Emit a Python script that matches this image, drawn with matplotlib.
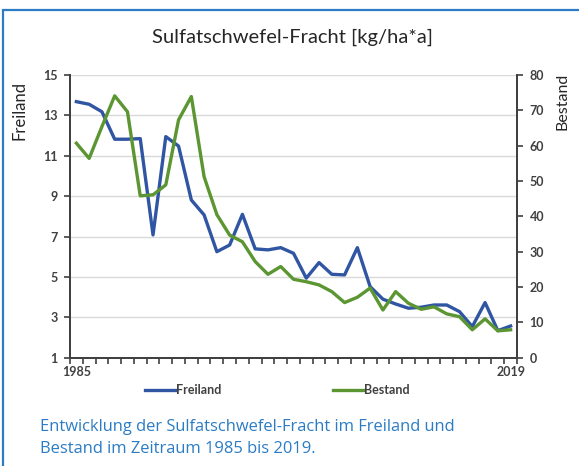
import numpy as np
import matplotlib
matplotlib.use("Agg")
from matplotlib import pyplot as plt
from matplotlib.lines import Line2D
from matplotlib.patches import Rectangle

years = list(range(1985, 2020))
freiland = [13.68, 13.55, 13.18, 11.82, 11.82, 11.85, 7.08, 11.95, 11.48, 8.81,
            8.07, 6.25, 6.58, 8.10, 6.39, 6.34, 6.45, 6.17, 4.94, 5.71,
            5.13, 5.10, 6.45, 4.52, 3.90, 3.66, 3.45, 3.50, 3.61, 3.61,
            3.28, 2.54, 3.73, 2.34, 2.57]
bestand = [60.7, 56.4, 65.4, 74.1, 69.6, 45.8, 46.1, 48.9, 67.3, 73.9,
           51.2, 40.5, 34.7, 32.8, 27.2, 23.6, 25.8, 22.2, 21.5, 20.6,
           18.7, 15.6, 17.1, 19.7, 13.5, 18.7, 15.4, 13.7, 14.4, 12.4,
           11.6, 7.9, 11.0, 7.6, 7.9]
left_ticks = [1, 3, 5, 7, 9, 11, 13, 15]
right_ticks = [0, 10, 20, 30, 40, 50, 60, 70, 80]

blue = "#2f55a3"
green = "#5b9632"
axis_col = "#404040"
tick_col = "#404040"
font = ["Lato", "DejaVu Sans"]

fig = plt.figure(figsize=(5.79, 4.66), dpi=100)
fig.patches.append(Rectangle((3 / 579, -0.1), 1.2, 1 - 10 / 466 + 0.1, transform=fig.transFigure,
                             fill=False, edgecolor="#2b7cc4", linewidth=1.6))

ax = fig.add_axes([70 / 579, 1 - 357.7 / 466, 447 / 579, (357.7 - 75) / 466])
ax2 = ax.twinx()
x = np.arange(len(years))

ax.plot(x, freiland, color=blue, linewidth=2.4, zorder=3)
ax2.plot(x, bestand, color=green, linewidth=2.4, zorder=3)

ax.set_xlim(-0.5, len(years) - 0.5)
ax.set_ylim(1, 15)
ax2.set_ylim(0, 80)
ax.set_yticks(left_ticks)
ax2.set_yticks(right_ticks)
ax.yaxis.grid(True, color="#d9d9d9", linewidth=1.0)
ax.set_axisbelow(True)

ax.set_xticks(np.arange(-0.5, len(years) + 0.5, 1))
ax.set_xticklabels([])
xlab_tr = ax.get_xaxis_transform()
for i in (0, len(years) - 1):
    ax.annotate(str(years[i]), (i, 0), xycoords=xlab_tr, xytext=(0, -6),
                textcoords="offset points", ha="center", va="top", fontsize=9,
                color=tick_col, fontweight="bold", fontfamily=font)

for a in (ax, ax2):
    a.spines["top"].set_visible(False)
    for s in ("left", "right", "bottom"):
        a.spines[s].set_color(axis_col)
        a.spines[s].set_linewidth(1.3)
    a.tick_params(axis="both", direction="out", length=4, width=1.2, color=axis_col,
                  labelsize=9, labelcolor=tick_col, pad=5)
    for lab in a.get_yticklabels():
        lab.set_fontfamily(font)
        lab.set_fontweight("bold")

fig.text(293 / 579, 1 - 37 / 466, "Sulfatschwefel-Fracht [kg/ha*a]", ha="center", va="center",
         fontsize=14.5, color="#262626", fontfamily=font)
fig.text(20 / 579, 1 - 110 / 466, "Freiland", rotation=90, ha="center", va="center",
         fontsize=12, color="#262626", fontfamily=font)
fig.text(563 / 579, 1 - 101 / 466, "Bestand", rotation=90, ha="center", va="center",
         fontsize=11.5, color="#262626", fontfamily=font)

# legend
for x0, lab, col in ((145, "Freiland", blue), (333, "Bestand", green)):
    fig.lines.append(Line2D([x0 / 579, (x0 + 30) / 579], [1 - 390 / 466] * 2,
                            transform=fig.transFigure, color=col, linewidth=2.4))
    fig.text((x0 + 31) / 579, 1 - 390 / 466, lab, ha="left", va="center", fontsize=9,
             color="#404040", fontweight="bold", fontfamily=font)

cap = "Entwicklung der Sulfatschwefel-Fracht im Freiland und\nBestand im Zeitraum 1985 bis 2019."
fig.text(40 / 579, 1 - 438 / 466, cap, ha="left", va="center", fontsize=11.9, color="#2b7cc4",
         fontfamily=["Open Sans", "DejaVu Sans"], linespacing=1.55)

fig.savefig("out.png", dpi=100)
